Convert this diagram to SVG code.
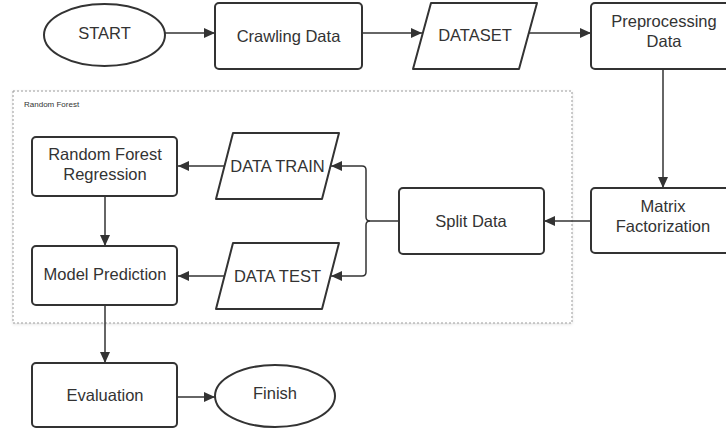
<svg xmlns="http://www.w3.org/2000/svg" width="726" height="429" viewBox="0 0 726 429">
<defs>
<marker id="ah" markerUnits="userSpaceOnUse" markerWidth="12" markerHeight="10" refX="11" refY="5" orient="auto">
<path d="M0,0 L11,5 L0,10 Z" fill="#333"/>
</marker>
<filter id="sh" x="-5%" y="-5%" width="110%" height="110%">
<feDropShadow dx="0" dy="1" stdDeviation="1.5" flood-color="#000" flood-opacity="0.12"/>
</filter>
</defs>
<style>
.n{fill:#fff;stroke:#333;stroke-width:2}
.t{font-family:"Liberation Sans",Arial,sans-serif;font-size:16.5px;fill:#333;text-anchor:middle;dominant-baseline:central}
.c{fill:none;stroke:#333;stroke-width:1.5}
.a{marker-end:url(#ah)}
</style>
<rect width="726" height="429" fill="#fff"/>
<g id="container">
<rect x="13" y="91" width="559" height="232" fill="#fff" stroke="#9a9a9a" stroke-width="1" stroke-dasharray="2,2" filter="url(#sh)"/>
<text x="24" y="107" style="font-family:'Liberation Sans',Arial,sans-serif;font-size:8px;fill:#333">Random Forest</text>
</g>
<g id="connectors">
<path class="c a" d="M165,33 H215"/>
<path class="c a" d="M362,33 H422"/>
<path class="c a" d="M529,33 H591"/>
<path class="c a" d="M663,69 V188"/>
<path class="c a" d="M591,221 H544"/>
<path class="c" d="M399,221 H370"/>
<path class="c a" d="M370,221 Q366,221 366,217 V170 Q366,166 362,166 H331"/>
<path class="c a" d="M370,221 Q366,221 366,225 V272 Q366,276 362,276 H331"/>
<path class="c a" d="M224,166 H178"/>
<path class="c a" d="M224,276 H178"/>
<path class="c a" d="M105,196 V246"/>
<path class="c a" d="M105,305 V363"/>
<path class="c a" d="M177,397 H215"/>
</g>
<g id="start">
<ellipse class="n" cx="104.5" cy="35" rx="60.5" ry="31"/>
<text class="t" x="104.5" y="33">START</text>
</g>
<g id="crawling">
<rect class="n" x="215" y="3" width="147" height="66" rx="4"/>
<text class="t" x="288.5" y="36">Crawling Data</text>
</g>
<g id="dataset">
<path class="n" d="M431,3 H537 L519,69 H413 Z" stroke-linejoin="round"/>
<text class="t" x="475" y="35">DATASET</text>
</g>
<g id="preprocessing">
<rect class="n" x="591" y="3" width="146" height="66" rx="4"/>
<text class="t" x="664" y="21">Preprocessing</text>
<text class="t" x="664" y="41">Data</text>
</g>
<g id="matrix">
<rect class="n" x="591" y="188" width="146" height="65" rx="4"/>
<text class="t" x="663" y="206">Matrix</text>
<text class="t" x="663" y="226">Factorization</text>
</g>
<g id="split">
<rect class="n" x="399" y="188" width="145" height="66" rx="4"/>
<text class="t" x="471" y="221">Split Data</text>
</g>
<g id="datatrain">
<path class="n" d="M233,133 H339 L322,199 H216 Z" stroke-linejoin="round"/>
<text class="t" x="277.5" y="166">DATA TRAIN</text>
</g>
<g id="datatest">
<path class="n" d="M233,243 H339 L322,309 H216 Z" stroke-linejoin="round"/>
<text class="t" x="277.5" y="276">DATA TEST</text>
</g>
<g id="rfr">
<rect class="n" x="32" y="137" width="145" height="59" rx="4"/>
<text class="t" x="105" y="154">Random Forest</text>
<text class="t" x="105" y="174">Regression</text>
</g>
<g id="prediction">
<rect class="n" x="32" y="246" width="145" height="59" rx="4"/>
<text class="t" x="105" y="274">Model Prediction</text>
</g>
<g id="evaluation">
<rect class="n" x="32" y="363" width="145" height="64" rx="4"/>
<text class="t" x="105" y="395">Evaluation</text>
</g>
<g id="finish">
<ellipse class="n" cx="275" cy="396" rx="60" ry="31"/>
<text class="t" x="275" y="393">Finish</text>
</g>
</svg>
